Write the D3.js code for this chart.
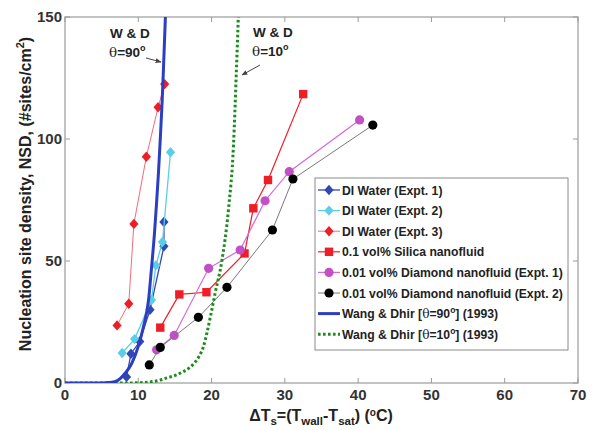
<!DOCTYPE html>
<html>
<head>
<meta charset="utf-8">
<script src="https://cdn.jsdelivr.net/npm/d3@7/dist/d3.min.js"></script>
<style>
  body { margin: 0; background: #fff; }
  text { font-family: "Liberation Sans", Arial, sans-serif; font-weight: bold; }
</style>
</head>
<body>
<svg id="chart" width="597" height="430"></svg>
<script>
// axis ticks
var xTicks = [0, 10, 20, 30, 40, 50, 60, 70];
var yTicks = [0, 50, 100, 150];

var di1X = [8.4, 9.0, 10.2, 11.6, 13.5, 13.5];
var di1Y = [2.5, 12, 17, 30, 56, 66];
var di2X = [7.8, 9.5, 11.8, 12.4, 13.3, 14.4];
var di2Y = [12.3, 18, 34, 48.2, 57.8, 94.6];
var di3X = [7.1, 8.7, 9.4, 11.1, 12.7, 13.6];
var di3Y = [23.6, 32.5, 65.2, 92.7, 113, 122.5];
var silicaX = [13.0, 15.6, 19.3, 24.5, 25.7, 27.7, 32.5];
var silicaY = [22.7, 36.3, 37.2, 53.1, 71.6, 83.2, 118.4];
var dia1X = [12.5, 14.9, 19.6, 23.9, 27.3, 30.6, 40.2];
var dia1Y = [13.6, 19.5, 47, 54.5, 74.7, 86.6, 107.8];
var dia2X = [11.5, 13.0, 18.2, 22.1, 28.3, 31.1, 42.0];
var dia2Y = [7.4, 14.6, 26.9, 39.2, 62.7, 83.6, 105.7];

// Wang & Dhir correlation curves
var wd90X = [0, 5, 6, 6.8, 7.6, 8.2, 9.1, 10.0, 10.7, 11.4, 11.8, 12.2, 12.5, 12.75, 13.0, 13.25, 13.45, 13.7, 13.9];
var wd90Y = [0, 0.05, 0.2, 0.5, 2, 4, 8, 15, 23, 34, 47, 61, 74, 86, 100, 115, 130, 150, 165];
var wd10X = [0, 8, 10, 12, 13, 14, 15.2, 16.1, 17, 17.6, 18.2, 18.9, 19.4, 19.9, 20.5, 21.4, 22.3, 23.0, 23.35, 23.65, 23.8];
var wd10Y = [0, 0, 0.1, 0.6, 1.2, 2.2, 3.3, 4.6, 6.3, 8, 10.5, 15, 21, 28, 37, 50, 71, 98, 125, 150, 165];

var legendNames = [
  'DI Water (Expt. 1)',
  'DI Water (Expt. 2)',
  'DI Water (Expt. 3)',
  '0.1 vol% Silica nanofluid',
  '0.01 vol% Diamond nanofluid (Expt. 1)',
  '0.01 vol% Diamond nanofluid (Expt. 2)'
];

var margin = {left: 65, top: 17, right: 19, bottom: 47};
var W = 597, H = 430;
var pw = W - margin.left - margin.right, ph = H - margin.top - margin.bottom;

var x = d3.scaleLinear().domain([0, 70]).range([0, pw]);
var y = d3.scaleLinear().domain([0, 150]).range([ph, 0]);

var diamond = 'M0,-5.2L4.6,0L0,5.2L-4.6,0Z';
var square = 'M-4.2,-4.2L4.2,-4.2L4.2,4.2L-4.2,4.2Z';
var circle = 'M4.6,0A4.6,4.6 0 1,1 -4.6,0A4.6,4.6 0 1,1 4.6,0Z';

var series = [
  {xs: di1X, ys: di1Y, fill: '#3247b0', line: '#3247b0', lw: 1.3, shape: diamond},
  {xs: di2X, ys: di2Y, fill: '#5ccde6', line: '#5ccde6', lw: 1.3, shape: diamond},
  {xs: di3X, ys: di3Y, fill: '#ee1d26', line: '#f26b78', lw: 1, shape: diamond},
  {xs: silicaX, ys: silicaY, fill: '#ee1d26', line: '#ee1d26', lw: 1.2, shape: square},
  {xs: dia1X, ys: dia1Y, fill: '#c24fc4', line: '#d36ad6', lw: 1.2, shape: circle},
  {xs: dia2X, ys: dia2Y, fill: '#000000', line: '#7a7a7a', lw: 1, shape: circle}
];

var svg = d3.select('#chart');
svg.append('rect').attr('width', W).attr('height', H).attr('fill', '#fff');

var g = svg.append('g').attr('transform', 'translate(' + margin.left + ',' + margin.top + ')');

svg.append('defs').append('clipPath').attr('id', 'plotclip')
  .append('rect').attr('x', 0).attr('y', 0).attr('width', pw).attr('height', ph);

// frame and inward ticks on all four sides
g.append('rect').attr('width', pw).attr('height', ph)
  .attr('fill', 'none').attr('stroke', '#9a9a9a').attr('stroke-width', 1.2);

var tickG = g.append('g').attr('stroke', '#9a9a9a').attr('stroke-width', 1);
xTicks.forEach(function(t) {
  tickG.append('line').attr('x1', x(t)).attr('x2', x(t)).attr('y1', ph).attr('y2', ph - 5);
  tickG.append('line').attr('x1', x(t)).attr('x2', x(t)).attr('y1', 0).attr('y2', 5);
});
yTicks.forEach(function(t) {
  tickG.append('line').attr('x1', 0).attr('x2', 5).attr('y1', y(t)).attr('y2', y(t));
  tickG.append('line').attr('x1', pw).attr('x2', pw - 5).attr('y1', y(t)).attr('y2', y(t));
});

g.selectAll('text.xtick')
  .data(xTicks)
  .enter()
  .append('text')
  .classed('xtick', true)
  .attr('x', function(d) { return x(d); })
  .attr('y', ph + 17)
  .attr('text-anchor', 'middle')
  .attr('font-size', '15px')
  .attr('fill', '#333')
  .text(function(d) { return d; });

g.selectAll('text.ytick')
  .data(yTicks)
  .enter()
  .append('text')
  .classed('ytick', true)
  .attr('x', -3)
  .attr('y', function(d) { return y(d) + 5; })
  .attr('text-anchor', 'end')
  .attr('font-size', '15px')
  .attr('fill', '#333')
  .text(function(d) { return d; });

// axis titles
var xl = svg.append('text')
  .attr('x', 321).attr('y', 421)
  .attr('text-anchor', 'middle')
  .attr('font-size', '16px')
  .attr('fill', '#222');
xl.append('tspan').text('\u0394T');
xl.append('tspan').attr('font-size', '11.5px').attr('dy', 4).text('s');
xl.append('tspan').attr('dy', -4).text('=(T');
xl.append('tspan').attr('font-size', '11.5px').attr('dy', 4).text('wall');
xl.append('tspan').attr('dy', -4).text('-T');
xl.append('tspan').attr('font-size', '11.5px').attr('dy', 4).text('sat');
xl.append('tspan').attr('dy', -4).text(') (');
xl.append('tspan').attr('font-size', '10px').attr('dy', -5).text('o');
xl.append('tspan').attr('dy', 5).text('C)');

var yl = svg.append('text')
  .attr('transform', 'translate(31,194) rotate(-90)')
  .attr('text-anchor', 'middle')
  .attr('font-size', '16px')
  .attr('fill', '#222');
yl.append('tspan').text('Nucleation site density, NSD, (#sites/cm');
yl.append('tspan').attr('font-size', '11px').attr('dy', -7).text('2');
yl.append('tspan').attr('dy', 7).text(')');

// data series
var plot = g.append('g').attr('clip-path', 'url(#plotclip)');
var lineGen = d3.line()
  .x(function(d) { return x(d[0]); })
  .y(function(d) { return y(d[1]); });

series.forEach(function(s) {
  var pts = s.xs.map(function(v, i) { return [v, s.ys[i]]; });
  plot.append('path')
    .attr('d', lineGen(pts))
    .attr('fill', 'none')
    .attr('stroke', s.line)
    .attr('stroke-width', s.lw);
  plot.selectAll(null)
    .data(pts)
    .enter()
    .append('path')
    .attr('d', s.shape)
    .attr('transform', function(d) { return 'translate(' + x(d[0]) + ',' + y(d[1]) + ')'; })
    .attr('fill', s.fill);
});

var curveGen = d3.line()
  .curve(d3.curveMonotoneX)
  .x(function(d) { return x(d[0]); })
  .y(function(d) { return y(d[1]); });

var wd90 = wd90X.map(function(v, i) { return [v, wd90Y[i]]; });
var wd10 = wd10X.map(function(v, i) { return [v, wd10Y[i]]; });

plot.append('path')
  .attr('d', curveGen(wd10))
  .attr('fill', 'none')
  .attr('stroke', '#1c8a1c')
  .attr('stroke-width', 3)
  .attr('stroke-dasharray', '2.6,2.4');

plot.append('path')
  .attr('d', curveGen(wd90))
  .attr('fill', 'none')
  .attr('stroke', '#2b3fc0')
  .attr('stroke-width', 3);

// annotations
svg.append('defs').append('marker')
  .attr('id', 'arr').attr('viewBox', '0 0 10 10')
  .attr('refX', 9).attr('refY', 5)
  .attr('markerWidth', 6).attr('markerHeight', 6)
  .attr('orient', 'auto')
  .append('path').attr('d', 'M0,1L10,5L0,9Z').attr('fill', '#444');

function annot(tx, ty, deg, ax1, ay1, ax2, ay2) {
  svg.append('text').attr('x', tx).attr('y', ty)
    .attr('font-size', '13.5px').attr('fill', '#222').text('W & D');
  var t = svg.append('text').attr('x', tx - 1).attr('y', ty + 19)
    .attr('font-size', '13.5px').attr('fill', '#222');
  t.append('tspan').attr('font-family', 'DejaVu Serif').attr('font-weight', 'normal').text('\u03b8');
  t.append('tspan').text('=' + deg);
  t.append('tspan').attr('font-size', '9px').attr('dy', -6).text('o');
  svg.append('line')
    .attr('x1', ax1).attr('y1', ay1).attr('x2', ax2).attr('y2', ay2)
    .attr('stroke', '#444').attr('stroke-width', 1)
    .attr('marker-end', 'url(#arr)');
}
annot(110, 38, '90', 146, 58, 161, 62);
annot(253, 37, '10', 260, 65, 242, 75);

// legend
var lg = svg.append('g').attr('transform', 'translate(315,178)');
lg.append('rect').attr('width', 253).attr('height', 172)
  .attr('fill', '#fff').attr('stroke', '#8a8a8a').attr('stroke-width', 1);

var rowY = function(i) { return 12 + i * 20.6; };

series.forEach(function(s, i) {
  var r = lg.append('g').attr('transform', 'translate(0,' + rowY(i) + ')');
  r.append('line').attr('x1', 3).attr('x2', 25).attr('y1', 0).attr('y2', 0)
    .attr('stroke', s.line).attr('stroke-width', s.lw);
  r.append('path').attr('d', s.shape).attr('transform', 'translate(14,0)').attr('fill', s.fill);
  r.append('text').attr('x', 27).attr('y', 4.5)
    .attr('font-size', '12.2px').attr('fill', '#222')
    .text(legendNames[i]);
});

function wdEntry(i, color, dash, deg) {
  var r = lg.append('g').attr('transform', 'translate(0,' + rowY(i) + ')');
  var l = r.append('line').attr('x1', 3).attr('x2', 25).attr('y1', 0).attr('y2', 0)
    .attr('stroke', color).attr('stroke-width', 3);
  if (dash) l.attr('stroke-dasharray', dash);
  var t = r.append('text').attr('x', 27).attr('y', 4.5)
    .attr('font-size', '12.2px').attr('fill', '#222');
  t.append('tspan').text('Wang & Dhir [');
  t.append('tspan').attr('font-family', 'DejaVu Serif').attr('font-weight', 'normal').text('\u03b8');
  t.append('tspan').text('=' + deg);
  t.append('tspan').attr('font-size', '8.5px').attr('dy', -5).text('o');
  t.append('tspan').attr('dy', 5).text('] (1993)');
}
wdEntry(6, '#2b3fc0', null, '90');
wdEntry(7, '#1c8a1c', '2.6,2.4', '10');
</script>
</body>
</html>
